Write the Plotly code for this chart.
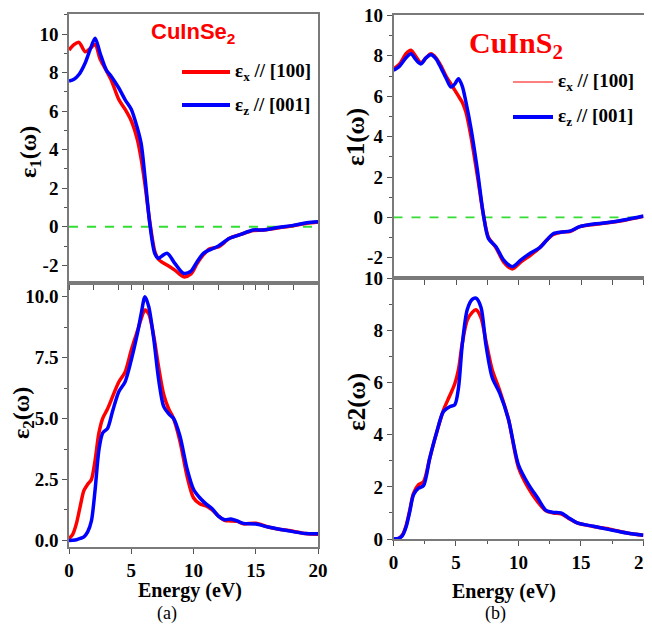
import plotly.graph_objects as go

# ---------------- data ----------------
# CuInSe2  eps1
se_e1_x = [0, 0.4, 0.8, 1.3, 1.7, 2.1, 2.5, 3.0, 3.4, 4.0, 4.5, 5.0, 5.5, 5.8, 6.1, 6.5, 6.9, 7.2, 7.5,
           7.9, 8.5, 9.2, 9.8, 10.3, 10.8, 11.3, 12.0, 12.9, 13.8, 14.8, 15.6, 16.9, 18.0, 19.1, 20.0]
se_e1_xx = [9.17, 9.45, 9.57, 9.08, 9.25, 9.46, 8.7, 8.1, 7.6, 6.6, 6.1, 5.5, 4.5, 3.5, 2.2, 0.2, -1.3, -1.7, -1.85,
            -2.0, -2.25, -2.6, -2.45, -1.9, -1.45, -1.15, -1.05, -0.6, -0.4, -0.2, -0.17, -0.05, 0.05, 0.18, 0.25]
se_e1_zz = [7.56, 7.65, 7.9, 8.5, 9.2, 9.78, 9.0, 8.13, 7.8, 7.2, 6.6, 6.1, 5.1, 4.3, 2.6, 0.1, -1.4, -1.64, -1.5,
            -1.38, -1.9, -2.42, -2.3, -1.8, -1.38, -1.2, -1.0, -0.6, -0.4, -0.17, -0.17, -0.03, 0.07, 0.21, 0.26]

# CuInSe2  eps2
se_e2_x = [0, 0.3, 0.6, 0.9, 1.2, 1.5, 1.8, 2.1, 2.4, 2.7, 3.1, 3.5, 4.0, 4.5, 5.0, 5.5, 5.8, 6.1, 6.4, 6.8,
           7.2, 7.6, 8.0, 8.4, 8.9, 9.5, 10.0, 10.5, 11.0, 11.5, 12.0, 12.5, 13.0, 13.5, 14.0, 15.0, 16.0,
           17.0, 18.0, 19.0, 20.0]
se_e2_xx = [0.08, 0.25, 0.7, 1.4, 2.05, 2.3, 2.5, 3.3, 4.4, 5.0, 5.4, 5.9, 6.5, 6.9, 7.8, 8.6, 9.1, 9.45, 9.3, 8.4,
            7.1, 6.0, 5.4, 5.0, 4.1, 2.6, 1.75, 1.5, 1.42, 1.25, 1.0, 0.82, 0.8, 0.78, 0.68, 0.7, 0.55,
            0.45, 0.38, 0.28, 0.25]
se_e2_zz = [0.0, 0.01, 0.03, 0.08, 0.15, 0.35, 0.8, 2.1, 3.7, 4.4, 4.6, 5.3, 6.1, 6.5, 7.4, 8.5, 9.3, 10.0, 9.6, 8.3,
            6.6, 5.5, 5.2, 5.0, 4.3, 2.9, 2.1, 1.75, 1.5, 1.3, 1.0, 0.85, 0.88, 0.8, 0.7, 0.67, 0.55,
            0.45, 0.36, 0.28, 0.27]

# CuInS2  eps1
s_e1_x = [0, 0.5, 1.0, 1.4, 1.8, 2.2, 2.6, 3.0, 3.4, 3.8, 4.2, 4.6, 4.9, 5.2, 5.5, 5.8, 6.2, 6.7, 7.2, 7.6,
          8.2, 8.8, 9.5, 10.2, 11.0, 11.7, 12.3, 12.8, 13.5, 14.1, 14.9, 16.0, 17.0, 18.4, 20.0]
s_e1_xx = [7.35, 7.6, 8.1, 8.27, 7.95, 7.65, 7.9, 8.1, 7.9, 7.5, 7.0, 6.6, 6.3, 6.0, 5.7, 5.2, 4.0, 2.1, 0.1, -1.0,
           -1.5, -2.2, -2.55, -2.2, -1.85, -1.5, -1.1, -0.85, -0.72, -0.7, -0.46, -0.35, -0.28, -0.15, 0.05]
s_e1_zz = [7.28, 7.5, 7.9, 8.1, 7.8, 7.6, 7.9, 8.05, 7.85, 7.4, 6.9, 6.45, 6.6, 6.87, 6.5, 5.7, 4.4, 2.4, 0.1, -1.05,
           -1.45, -2.1, -2.44, -2.1, -1.75, -1.5, -1.1, -0.8, -0.72, -0.68, -0.46, -0.33, -0.27, -0.13, 0.07]

# CuInS2  eps2
s_e2_x = [0, 0.4, 0.7, 1.0, 1.3, 1.6, 2.0, 2.4, 2.9, 3.4, 4.0, 4.5, 4.9, 5.2, 5.5, 5.9, 6.3, 6.6, 7.0, 7.4,
          7.9, 8.5, 9.2, 10.0, 10.8, 11.5, 12.2, 12.8, 13.4, 14.0, 14.7, 16.0, 17.3, 18.7, 20.0]
s_e2_xx = [0, 0.02, 0.15, 0.5, 1.1, 1.75, 2.08, 2.2, 3.1, 4.0, 4.95, 5.5, 5.95, 6.5, 7.5, 8.4, 8.7, 8.8, 8.5, 7.6,
           6.5, 5.7, 4.6, 2.75, 1.95, 1.45, 1.08, 1.0, 0.97, 0.8, 0.62, 0.48, 0.38, 0.23, 0.14]
s_e2_zz = [0, 0.02, 0.12, 0.45, 1.05, 1.7, 1.95, 2.05, 3.1, 4.0, 4.9, 5.08, 5.15, 5.8, 7.45, 8.8, 9.2, 9.25, 8.9, 7.45,
           6.2, 5.6, 4.6, 2.85, 2.1, 1.6, 1.1, 1.02, 1.0, 0.82, 0.62, 0.49, 0.36, 0.23, 0.14]

# tick labels
tl_y_vals = [-2, 0, 2, 4, 6, 8, 10]
tl_y_text = ["-2", "0", "2", "4", "6", "8", "10"]
bl_y_vals = [0, 2.5, 5, 7.5, 10]
bl_y_text = ["0.0", "2.5", "5.0", "7.5", "10.0"]
tr_y_vals = [-2, 0, 2, 4, 6, 8, 10]
tr_y_text = ["-2", "0", "2", "4", "6", "8", "10"]
br_y_vals = [0, 2, 4, 6, 8, 10]
br_y_text = ["0", "2", "4", "6", "8", "10"]
x_vals = [0, 5, 10, 15, 20]
x_text = ["0", "5", "10", "15", "20"]

# ---------------- figure ----------------
OFF = 8  # page body margin
W, H = 652, 629
RED = "#ff0000"
BLUE = "#0000ff"
GRAY = "#7a7a7a"
SERIF = "Times New Roman, Liberation Serif, DejaVu Serif, serif"
SANS = "Arial, Liberation Sans, sans-serif"


def px_x(p):
    return (p - OFF) / W


def px_y(p):
    return 1 - (p - OFF) / H


fig = go.Figure()

panels = [
    ("x", "y", se_e1_x, se_e1_xx, se_e1_zz),
    ("x2", "y2", se_e2_x, se_e2_xx, se_e2_zz),
    ("x3", "y3", s_e1_x, s_e1_xx, s_e1_zz),
    ("x4", "y4", s_e2_x, s_e2_xx, s_e2_zz),
]
for xa, ya, xs, yx, yz in panels:
    fig.add_trace(go.Scatter(x=xs, y=yx, mode="lines", line=dict(color=RED, width=3.5, shape="spline", smoothing=0.8),
                             xaxis=xa, yaxis=ya, showlegend=False))
    fig.add_trace(go.Scatter(x=xs, y=yz, mode="lines", line=dict(color=BLUE, width=3.5, shape="spline", smoothing=0.8),
                             xaxis=xa, yaxis=ya, showlegend=False))

tickfont = dict(family=SERIF, size=19, color="black", weight="bold")

common_ax = dict(showline=True, linecolor=GRAY, linewidth=1.5, mirror=True, showgrid=False, zeroline=False,
                 ticks="outside", ticklen=5, tickwidth=1.2, tickcolor="#555555", tickfont=tickfont,
                 automargin=False, ticklabeloverflow="allow")

xl = [px_x(69), px_x(318)]
xr = [px_x(393.5), px_x(643.5)]

fig.update_layout(
    width=W, height=H,
    margin=dict(l=0, r=0, t=0, b=0, autoexpand=False),
    paper_bgcolor="white", plot_bgcolor="white",
    showlegend=False,
    xaxis=dict(domain=xl, anchor="y", range=[0, 20], tickvals=x_vals, showticklabels=False,
               minor=dict(dtick=2, tick0=0, ticks="outside", ticklen=5, tickcolor="#555555"), **common_ax),
    yaxis=dict(domain=[px_y(283), px_y(14)], anchor="x", range=[-2.92, 11.04], tickvals=tl_y_vals, ticktext=tl_y_text,
               minor=dict(dtick=1, tick0=0, ticks="outside", ticklen=3, tickcolor="#555555"), **common_ax),
    xaxis2=dict(domain=xl, anchor="y2", range=[0, 20], tickvals=x_vals, ticktext=x_text, **common_ax),
    yaxis2=dict(domain=[px_y(547), px_y(283)], anchor="x2", range=[-0.27, 10.56], tickvals=bl_y_vals,
                ticktext=bl_y_text,
                minor=dict(dtick=1.25, tick0=0, ticks="outside", ticklen=3, tickcolor="#555555"), **common_ax),
    xaxis3=dict(domain=xr, anchor="y3", range=[0, 20], tickvals=x_vals, showticklabels=False,
                minor=dict(dtick=2.5, tick0=0, ticks="outside", ticklen=5, tickcolor="#555555"), **common_ax),
    yaxis3=dict(domain=[px_y(278), px_y(15)], anchor="x3", range=[-3.0, 10.02], tickvals=tr_y_vals, ticktext=tr_y_text,
                minor=dict(dtick=1, tick0=0, ticks="outside", ticklen=3, tickcolor="#555555"), **common_ax),
    xaxis4=dict(domain=xr, anchor="y4", range=[0, 20.01], tickvals=x_vals, ticktext=x_text,
                minor=dict(dtick=2.5, tick0=0, ticks="outside", ticklen=3, tickcolor="#555555"), **common_ax),
    yaxis4=dict(domain=[px_y(539), px_y(278)], anchor="x4", range=[0, 10.02], tickvals=br_y_vals, ticktext=br_y_text,
                minor=dict(dtick=1, tick0=0, ticks="outside", ticklen=3, tickcolor="#555555"), **common_ax),
)

shapes = []
# green dashed zero lines
for xa, ya in [("x", "y"), ("x3", "y3")]:
    shapes.append(dict(type="line", xref=f"{xa} domain", yref=ya, x0=0, x1=1, y0=0, y1=0,
                       line=dict(color="#33dd33", width=1.8, dash="dash"), layer="below"))
# legend samples
shapes.append(dict(type="line", xref="paper", yref="paper", x0=px_x(182), x1=px_x(230), y0=px_y(72), y1=px_y(72),
                   line=dict(color=RED, width=4)))
shapes.append(dict(type="line", xref="paper", yref="paper", x0=px_x(182), x1=px_x(230), y0=px_y(105), y1=px_y(105),
                   line=dict(color=BLUE, width=4)))
shapes.append(dict(type="line", xref="paper", yref="paper", x0=px_x(513), x1=px_x(553), y0=px_y(82), y1=px_y(82),
                   line=dict(color=RED, width=1)))
shapes.append(dict(type="line", xref="paper", yref="paper", x0=px_x(513), x1=px_x(553), y0=px_y(117), y1=px_y(117),
                   line=dict(color=BLUE, width=4)))
fig.update_layout(shapes=shapes)


def ann(text, x, y, size=18, bold=True, family=SERIF, color="black", angle=0, xanchor="center"):
    return dict(text=text, x=px_x(x), y=px_y(y), xref="paper", yref="paper", showarrow=False,
                xanchor=xanchor, yanchor="middle", textangle=angle,
                font=dict(family=family, size=size, color=color, weight="bold" if bold else "normal"))


annotations = [
    ann("CuInSe<sub>2</sub>", 193, 33, size=22, family=SANS, color=RED),
    ann("CuInS<sub>2</sub>", 516, 45, size=30, color=RED),
    ann("ε<sub>x</sub> // [100]", 233, 72, size=19, xanchor="left"),
    ann("ε<sub>z</sub> // [001]", 233, 106, size=19, xanchor="left"),
    ann("ε<sub>x</sub> // [100]", 556, 82, size=19, xanchor="left"),
    ann("ε<sub>z</sub> // [001]", 556, 117, size=19, xanchor="left"),
    ann("ε<sub>1</sub>(ω)", 30, 152, size=24, angle=-90),
    ann("ε<sub>2</sub>(ω)", 23, 413, size=24, angle=-90),
    ann("ε1(ω)", 356, 137, size=25, angle=-90),
    ann("ε2(ω)", 357, 402, size=25, angle=-90),
    ann("Energy (eV)", 190, 590, size=20),
    ann("Energy (eV)", 504, 591, size=20),
    ann("(a)", 167, 613, size=18, bold=False),
    ann("(b)", 495, 613, size=18, bold=False),
]
fig.update_layout(annotations=annotations)

fig.write_html("out.html")
